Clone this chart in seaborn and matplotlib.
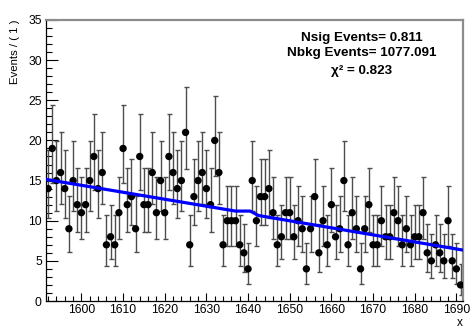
import math
import numpy as np
import pandas as pd
import matplotlib
matplotlib.use("Agg")
import matplotlib.pyplot as plt
import seaborn as sns
from matplotlib.ticker import MultipleLocator

# ---- data ----
bin_lo = 1591.5
bin_hi = 1691.5
bin_centers = list(range(1592, 1692))   # 100 bins of width 1
counts = [
    14, 19, 15, 16, 14, 9, 15, 12, 11, 12,
    15, 18, 14, 16, 7, 8, 7, 11, 19, 12,
    13, 9, 18, 12, 12, 16, 11, 15, 11, 18,
    16, 14, 15, 21, 7, 13, 15, 16, 14, 12,
    20, 16, 7, 10, 10, 10, 7, 6, 4, 15,
    10, 13, 13, 14, 11, 7, 8, 11, 11, 8,
    10, 9, 4, 9, 13, 6, 10, 7, 12, 8,
    9, 15, 7, 11, 9, 4, 9, 12, 7, 7,
    10, 8, 8, 11, 10, 7, 9, 7, 8, 8,
    11, 6, 5, 7, 6, 5, 10, 5, 4, 2,
]
fit_x = [1591.5, 1637.0, 1640.5, 1642.5, 1691.5]
fit_y = [15.15, 11.2, 11.2, 10.65, 6.35]
info_lines = ["Nsig Events= 0.811", "Nbkg Events= 1077.091", "\u03c7\u00b2 = 0.823"]


# ---- Poisson (Garwood) 68% intervals for the error bars ----
def pois_cdf(k, mu):
    if k < 0:
        return 0.0
    term = math.exp(-mu)
    s = term
    for i in range(1, k + 1):
        term *= mu / i
        s += term
    return s


def bisect(f, a, b):
    for _ in range(80):
        m = 0.5 * (a + b)
        if f(a) * f(m) <= 0:
            b = m
        else:
            a = m
    return 0.5 * (a + b)


alpha = 0.158655
lo_err, hi_err = [], []
for n in counts:
    lo = 0.0 if n == 0 else bisect(lambda mu: pois_cdf(n - 1, mu) - (1 - alpha), 1e-9, 100)
    hi = bisect(lambda mu: pois_cdf(n, mu) - alpha, 1e-9, 100)
    lo_err.append(n - lo)
    hi_err.append(hi - n)

df = pd.DataFrame({"x": bin_centers, "n": counts})
fit_df = pd.DataFrame({"x": fit_x, "y": fit_y})

sns.set_theme(style="ticks")
plt.rcParams["font.family"] = ["Liberation Sans", "DejaVu Sans"]

fig = plt.figure(figsize=(4.75, 3.3), dpi=100)
W, H = 475, 330
x0, x1, ytop, ybot = 46, 462.6, 20, 301
ax = fig.add_axes([x0 / W, (H - ybot) / H, (x1 - x0) / W, (ybot - ytop) / H])

ax.errorbar(df["x"], df["n"], yerr=[lo_err, hi_err], fmt="none",
            ecolor="0.3", elinewidth=1.0, capsize=1.8, capthick=1.0, zorder=2)
sns.scatterplot(data=df, x="x", y="n", color="black", s=28, edgecolor="none",
                ax=ax, zorder=3, legend=False)
sns.lineplot(data=fit_df, x="x", y="y", color="#0000ff", lw=2.3, ax=ax,
             zorder=4, estimator=None, sort=False)

ax.set_xlim(bin_lo, bin_hi)
ax.set_ylim(0, 35)

ax.xaxis.set_major_locator(MultipleLocator(10))
ax.xaxis.set_minor_locator(MultipleLocator(2))
ax.yaxis.set_major_locator(MultipleLocator(5))
ax.yaxis.set_minor_locator(MultipleLocator(1))
ax.tick_params(axis="x", which="major", direction="in", length=5.8, width=0.8,
               color="black", labelsize=8.7, labelcolor="black", pad=2.5)
ax.tick_params(axis="x", which="minor", direction="in", length=3.6, width=0.8, color="black")
ax.tick_params(axis="y", which="major", direction="in", length=8.4, width=0.8,
               color="black", labelsize=8.7, labelcolor="black", pad=3)
ax.tick_params(axis="y", which="minor", direction="in", length=4.3, width=0.8, color="black")

for side in ["left", "bottom"]:
    ax.spines[side].set_color("black")
    ax.spines[side].set_linewidth(0.9)
for side in ["top", "right"]:
    ax.spines[side].set_visible(True)
    ax.spines[side].set_color("0.55")
    ax.spines[side].set_linewidth(1.6)

ax.set_ylabel("Events / ( 1 )", fontsize=8.2, ha="right", va="center", color="black")
ax.yaxis.set_label_coords((15 - x0) / (x1 - x0), 1.0)
ax.set_xlabel("x", fontsize=8.5, ha="right", va="top", color="black")
ax.xaxis.set_label_coords(1.0, (ybot - 317.5) / (ybot - ytop))

cx = (361.7 - x0) / (x1 - x0)
for txt, yp in zip(info_lines, [37.7, 53.3, 70.7]):
    ax.text(cx, (ybot - yp) / (ybot - ytop), txt, transform=ax.transAxes,
            ha="center", va="center", fontsize=9.7, fontweight="bold", color="black")

fig.savefig("out.png", dpi=100)
